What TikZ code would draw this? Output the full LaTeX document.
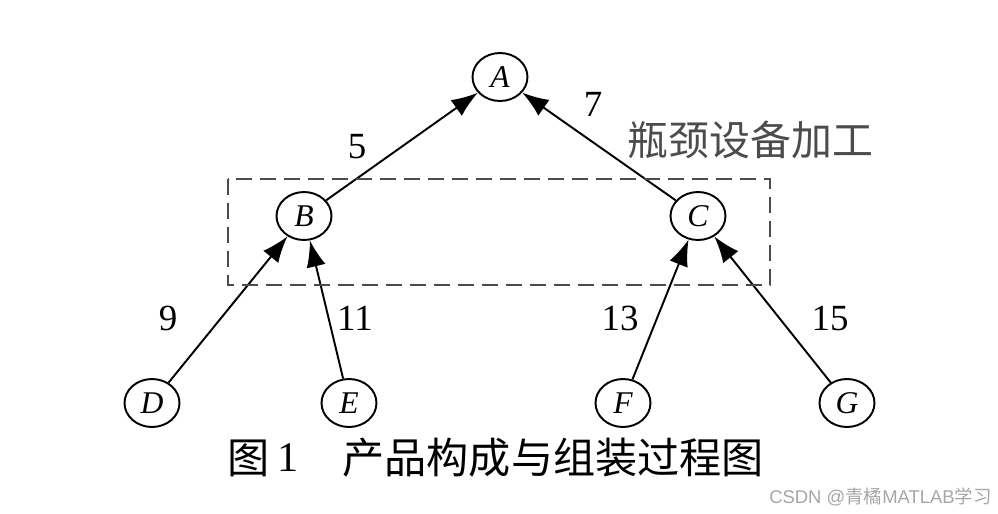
\documentclass[tikz,border=0pt]{standalone}
\usepackage{fontspec}
\setmainfont{Liberation Serif}
\newfontfamily\cjk{Noto Sans CJK SC}
\newfontfamily\wmfont{Liberation Sans}
\usetikzlibrary{shapes.geometric,arrows.meta}
\begin{document}
\begin{tikzpicture}[x=0.02cm,y=-0.02cm,
  vtx/.style={draw,ellipse,line width=1.1pt,minimum width=1.1cm,minimum height=0.96cm,inner sep=0pt,font=\fontsize{18}{18}\selectfont\itshape},
  edge/.style={line width=1.1pt,-{Latex[length=15pt,width=11pt]}},
  lab/.style={font=\fontsize{21}{21}\selectfont},
  zh/.style={font=\cjk\fontsize{23.3}{23.3}\selectfont},
  captext/.style={font=\cjk\fontsize{24}{24}\selectfont}]
\useasboundingbox (0,0) rectangle (998,514);
\node[vtx] (A) at (500,77) {A};
\node[vtx] (B) at (304,216) {B};
\node[vtx] (C) at (698,216) {C};
\node[vtx] (D) at (152,403) {D};
\node[vtx] (E) at (349,403) {E};
\node[vtx] (F) at (623,403) {F};
\node[vtx] (G) at (847,403) {G};
\draw[edge] (B) -- (A);
\draw[edge] (C) -- (A);
\draw[edge] (D) -- (B);
\draw[edge] (E) -- (B);
\draw[edge] (F) -- (C);
\draw[edge] (G) -- (C);
\draw[dash pattern=on 0.32cm off 0.16cm,line width=1.5pt,black!70] (228,179) rectangle (770,285);
\node[lab] (l5) at (357,147) {5};
\node[lab] (l7) at (593,104) {7};
\node[lab] (l9) at (168,318) {9};
\node[lab] (l11) at (355,318) {11};
\node[lab] (l13) at (620,318) {13};
\node[lab] (l15) at (830,318) {15};
\node[zh,text=black!70,anchor=west,inner sep=0pt] (bn) at (627,140) {瓶颈设备加工};
\node[captext,anchor=west,inner sep=0pt] (cap1) at (227,458) {图};
\node[font=\fontsize{24}{24}\selectfont,anchor=west,inner sep=0pt] (cap2) at (277,458) {1};
\node[captext,anchor=west,inner sep=0pt] (cap3) at (342,458) {产品构成与组装过程图};
\node[text=black!35,anchor=east,inner sep=0pt,font=\fontsize{10.5}{10.5}\selectfont] (wm) at (992,497) {\wmfont CSDN @\cjk 青橘\wmfont MATLAB\cjk 学习};
\end{tikzpicture}
\end{document}
